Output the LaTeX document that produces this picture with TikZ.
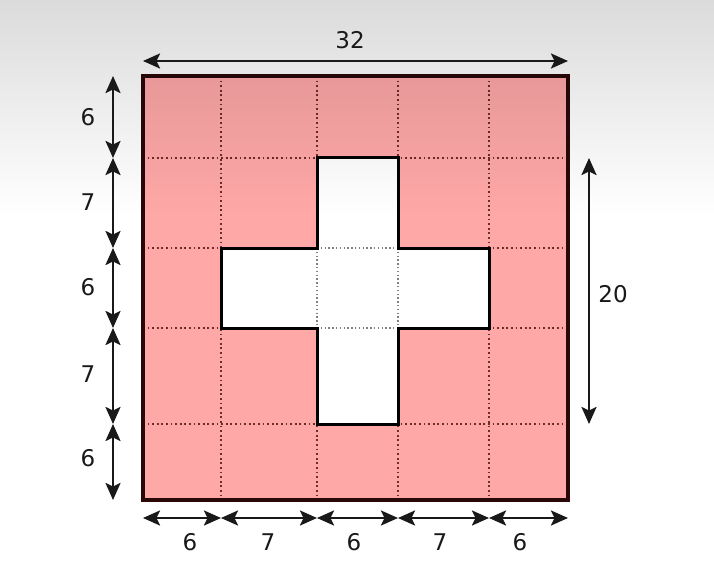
\documentclass[tikz,border=0pt]{standalone}
\usepackage{fontspec}
\setmainfont{DejaVu Sans}
\usetikzlibrary{arrows.meta,fadings}
\definecolor{pinkfill}{HTML}{FFA8A8}
\definecolor{gridc}{HTML}{6E2C2C}
\definecolor{edgec}{HTML}{2A0808}
\tikzfading[name=fadedown, top color=transparent!0, bottom color=transparent!100]
\begin{document}
\begin{tikzpicture}[x=1pt,y=-1pt,
  tipA/.tip={Stealth[length=17pt,width=15pt,inset=3.5pt]},
  dim/.style={tipA-tipA, line width=2.4pt, black!90},
  lab/.style={font=\fontsize{23}{25}\selectfont, inner sep=0pt, text=black!90},
  gridline/.style={gridc, line width=1.8pt, dash pattern=on 1.8pt off 2.8pt},
  innergrid/.style={black!50, line width=1.3pt, dash pattern=on 1.3pt off 2.5pt}]
\useasboundingbox (0,0) rectangle (714,585);
\fill[white] (0,0) rectangle (714,585);
% square
\coordinate (A) at (143,76);
\coordinate (C) at (568,500);
\fill[pinkfill] (A) rectangle (C);
% grid
\foreach \x in {221,317,398,489} \draw[gridline] (\x,76) -- (\x,500);
\foreach \y in {158,248,328,424} \draw[gridline] (143,\y) -- (568,\y);
% cross
\fill[white] (317,158) -- (398,158) -- (398,248) -- (489,248) -- (489,328) -- (398,328) -- (398,424) -- (317,424) -- (317,328) -- (221,328) -- (221,248) -- (317,248) -- cycle;
\draw[innergrid] (317,248) -- (317,328);
\draw[innergrid] (398,248) -- (398,328);
\draw[innergrid] (317,248) -- (398,248);
\draw[innergrid] (317,328) -- (398,328);
\draw[line width=3pt, black, line join=miter] (317,158) -- (398,158) -- (398,248) -- (489,248) -- (489,328) -- (398,328) -- (398,424) -- (317,424) -- (317,328) -- (221,328) -- (221,248) -- (317,248) -- cycle;
\draw[line width=3.2pt, edgec] (A) rectangle (C);
% top shading overlay
\fill[black, fill opacity=0.14, path fading=fadedown] (0,0) rectangle (714,215);
% top dimension
\coordinate (T0) at (143,61);
\coordinate (T1) at (568,61);
\draw[dim] (T0) -- (T1);
\node[lab] (t32) at (350,40) {32};
% right dimension
\coordinate (R0) at (589,158);
\coordinate (R1) at (589,424);
\draw[dim] (R0) -- (R1);
\node[lab] (r20) at (613,294) {20};
% left dimensions
\coordinate (L0) at (113,76);
\coordinate (L1) at (113,158);
\coordinate (L2) at (113,248);
\coordinate (L3) at (113,328);
\coordinate (L4) at (113,424);
\coordinate (L5) at (113,500);
\draw[dim] (L0) -- (L1);
\draw[dim] (L1) -- (L2);
\draw[dim] (L2) -- (L3);
\draw[dim] (L3) -- (L4);
\draw[dim] (L4) -- (L5);
\node[lab] (l1) at (88,117) {6};
\node[lab] (l2) at (88,202) {7};
\node[lab] (l3) at (88,287) {6};
\node[lab] (l4) at (88,374) {7};
\node[lab] (l5) at (88,458) {6};
% bottom dimensions
\coordinate (B0) at (143,518);
\coordinate (B1) at (221,518);
\coordinate (B2) at (317,518);
\coordinate (B3) at (398,518);
\coordinate (B4) at (489,518);
\coordinate (B5) at (568,518);
\draw[dim] (B0) -- (B1);
\draw[dim] (B1) -- (B2);
\draw[dim] (B2) -- (B3);
\draw[dim] (B3) -- (B4);
\draw[dim] (B4) -- (B5);
\node[lab] (b1) at (190,542) {6};
\node[lab] (b2) at (268,542) {7};
\node[lab] (b3) at (354,542) {6};
\node[lab] (b4) at (440,542) {7};
\node[lab] (b5) at (520,542) {6};
\end{tikzpicture}
\end{document}
